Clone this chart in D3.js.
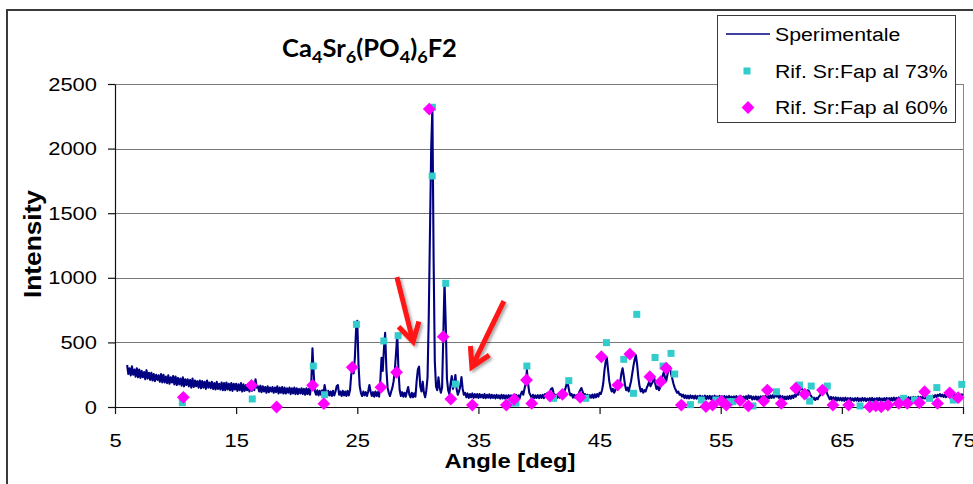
<!DOCTYPE html>
<html>
<head>
<meta charset="utf-8">
<script src="https://cdn.jsdelivr.net/npm/d3@7"></script>
<style>
  html, body { margin: 0; padding: 0; background: #fff; }
  svg { display: block; }
  text { font-family: "Liberation Sans", Arial, sans-serif; fill: #000; }
</style>
</head>
<body>
<svg id="chart" width="973" height="484"></svg>
<script>
// Measured diffractogram, sampled on a 0.1° grid from 6° to 75°
const scanStart = 6.0;
const scanStep = 0.1;
const scanCounts = [
  325,255,300,245,315,250,290,235,300,230,   // 6
  290,225,280,230,270,215,285,220,265,210,   // 7
  265,205,255,200,250,210,245,195,255,190,   // 8
  250,190,235,185,245,180,230,190,240,175,   // 9
  235,170,225,175,220,165,230,160,215,170,   // 10
  215,160,210,150,220,155,205,160,200,150,   // 11
  205,145,200,150,195,140,205,150,190,145,   // 12
  195,140,185,135,195,140,180,135,190,130,   // 13
  185,130,190,135,180,130,185,125,180,135,   // 14
  180,125,175,130,185,120,175,125,170,130,   // 15
  175,120,170,125,165,130,215,150,160,120,   // 16
  165,115,160,120,155,110,160,115,150,120,   // 17
  155,110,150,115,160,105,150,110,155,105,   // 18
  150,105,145,110,150,100,145,105,150,100,   // 19
  145,100,140,105,145,100,140,95,145,100,    // 20
  140,95,180,455,260,120,95,130,90,125,      // 21
  95,130,90,170,120,85,125,90,120,85,        // 22
  125,90,120,160,170,95,120,85,125,90,       // 23
  120,85,125,90,130,250,300,260,380,600,     // 24
  668,330,160,110,85,120,90,115,85,120,      // 25
  170,120,85,115,80,120,85,115,80,200,       // 26
  380,280,450,575,300,150,110,85,120,150,    // 27
  200,285,420,563,280,130,85,115,80,110,     // 28
  80,120,155,95,75,110,75,105,80,200,        // 29
  290,312,160,120,196,110,75,130,230,700,    // 30
  1350,2000,2320,1150,350,160,130,230,150,110, // 31
  150,550,967,650,220,130,100,180,240,140,   // 32
  190,248,140,95,120,160,232,140,95,110,     // 33
  75,105,70,100,75,105,70,100,75,100,        // 34
  70,100,75,95,70,100,68,95,72,98,           // 35
  68,95,70,92,66,95,70,90,65,95,             // 36
  66,92,65,90,68,92,64,90,66,92,             // 37
  65,95,68,90,65,100,120,95,140,180,         // 38
  286,180,110,90,70,95,68,90,70,92,          // 39
  68,92,70,95,68,100,80,110,95,120,          // 40
  140,147,110,85,95,70,92,72,95,80,          // 41
  100,120,150,186,170,120,90,100,72,95,      // 42
  70,92,80,110,130,147,120,90,100,75,        // 43
  95,70,92,72,96,70,98,75,100,80,            // 44
  110,100,130,180,280,350,380,290,200,150,   // 45
  120,140,110,130,170,200,160,190,260,300,   // 46
  240,170,130,150,120,160,200,260,320,370,   // 47
  400,330,230,160,120,140,110,130,120,150,   // 48
  170,200,160,180,196,230,180,140,160,130,   // 49
  150,200,240,270,230,200,250,290,312,260,   // 50
  220,180,150,130,110,120,95,100,80,95,      // 51
  70,90,68,88,66,90,70,86,65,88,             // 52
  64,85,66,88,62,84,65,88,62,85,             // 53
  64,86,60,84,63,88,62,82,64,86,             // 54
  60,84,62,85,58,82,60,86,62,80,             // 55
  58,82,60,84,56,80,60,82,58,80,             // 56
  60,84,62,90,70,85,58,80,60,82,             // 57
  56,80,58,82,60,84,62,86,60,88,             // 58
  66,90,70,92,72,100,80,96,70,88,            // 59
  62,84,58,80,60,82,62,86,64,88,             // 60
  70,95,80,105,95,130,140,147,120,100,       // 61
  90,110,130,120,95,80,60,72,55,70,          // 62
  60,80,90,110,125,140,150,130,100,80,       // 63
  60,78,55,75,52,74,50,72,52,70,             // 64
  50,70,48,72,52,68,46,70,50,66,             // 65
  48,68,50,70,46,66,48,70,50,68,             // 66
  46,66,50,68,48,70,46,66,48,68,             // 67
  50,70,48,66,50,68,46,70,52,68,             // 68
  48,70,50,72,52,70,50,74,54,72,             // 69
  52,74,56,72,54,76,56,74,58,78,             // 70
  56,76,60,80,62,78,64,82,66,84,             // 71
  62,80,66,84,70,88,74,92,78,95,             // 72
  85,100,82,96,78,94,76,92,80,98,            // 73
  82,100,86,98,84,102,88,100,84,98,          // 74
  90                                         // 75
];

// Reference pattern, Sr:Fap 73%
const ref73Angle = [10.56, 16.33, 21.37, 22.3, 24.93, 27.19, 28.37, 31.18, 31.2, 32.3,
  33.1, 37.7, 38.1, 39.0, 41.2, 42.46, 43.86, 45.57, 47.0, 47.8,
  48.07, 49.58, 50.24, 50.9, 51.2, 52.5, 53.4, 54.6, 55.75, 56.0,
  57.66, 59.6, 61.5, 62.34, 62.47, 63.8, 66.5, 67.7, 68.5, 70.1,
  71.0, 72.24, 72.84, 74.2, 74.9];
const ref73Counts = [33, 62, 317, 95, 640, 511, 552, 1788, 2320, 957,
  178, 30, 30, 317, 67, 204, 67, 498, 369, 106,
  717, 383, 317, 415, 255, 18, 54, 54, 41, 41,
  8, 118, 170, 46, 162, 162, 8, 15, 15, 67,
  54, 67, 150, 54, 175];

// Reference pattern, Sr:Fap 60%
const ref60Angle = [10.64, 16.27, 18.34, 21.31, 22.24, 24.58, 26.95, 28.24, 30.94, 32.09,
  32.72, 34.5, 37.3, 37.95, 38.97, 39.4, 40.9, 41.94, 43.4, 45.15,
  46.5, 47.5, 49.15, 50.05, 50.5, 51.75, 53.78, 54.33, 55.05, 55.46,
  56.6, 57.28, 58.55, 58.85, 60.0, 61.2, 61.93, 63.4, 64.26, 65.56,
  67.3, 67.8, 68.25, 68.8, 69.7, 70.4, 71.4, 71.83, 72.9, 73.9, 74.6];
const ref60Counts = [75, 168, 0, 168, 26, 307, 152, 268, 2306, 544,
  62, 15, 15, 60, 209, 28, 85, 98, 75, 389,
  170, 410, 235, 196, 300, 15, 4, 15, 46, 15,
  50, 8, 46, 131, 28, 145, 100, 131, 15, 15,
  2, 8, 2, 15, 28, 28, 33, 118, 28, 110, 72];

const xTicks = [5, 15, 25, 35, 45, 55, 65, 75];
const yTicks = [0, 500, 1000, 1500, 2000, 2500];
const legendLabels = ["Sperimentale", "Rif. Sr:Fap al 73%", "Rif. Sr:Fap al 60%"];

// Annotation arrows, in data units (angle, counts): tail -> head
const arrowTail = [[28.27, 1006], [37.10, 820]];
const arrowHead = [[29.61, 505], [34.46, 310]];

const svg = d3.select("#chart");
const plot = { left: 115, right: 963, top: 84, bottom: 407 };

const x = d3.scaleLinear().domain([5, 75]).range([plot.left, plot.right]);
const y = d3.scaleLinear().domain([0, 2500]).range([plot.bottom, plot.top]);

const LINE = "#000080", CYAN = "#33CCCC", MAGENTA = "#FF00FF";

// Chart-area frame (top and left edges)
svg.append("path")
  .attr("d", "M7,484V10H973")
  .attr("fill", "none").attr("stroke", "#3a3a3a").attr("stroke-width", 2);

// Horizontal gridlines
svg.append("g")
  .selectAll("line").data(yTicks.filter(v => v > 0)).join("line")
  .attr("x1", plot.left).attr("x2", plot.right)
  .attr("y1", d => Math.round(y(d)) + 0.5).attr("y2", d => Math.round(y(d)) + 0.5)
  .attr("stroke", "#7a7a7a").attr("stroke-width", 1);

// Right edge of plot area
svg.append("line")
  .attr("x1", plot.right + 0.5).attr("x2", plot.right + 0.5)
  .attr("y1", plot.top).attr("y2", plot.bottom)
  .attr("stroke", "#8a8a8a");

// Axes
const tickSX = 1.22;
const yAxis = svg.append("g")
  .attr("transform", `translate(${plot.left},0)`)
  .call(d3.axisLeft(y).tickValues(yTicks).tickFormat(d3.format("d"))
    .tickSize(7).tickSizeOuter(0).tickPadding(11));
const xAxis = svg.append("g")
  .attr("transform", `translate(0,${plot.bottom})`)
  .call(d3.axisBottom(x).tickValues(xTicks).tickFormat(d3.format("d"))
    .tickSize(7).tickSizeOuter(0));

[yAxis, xAxis].forEach(g => {
  g.attr("font-family", null).attr("font-size", null);
  g.select(".domain").attr("stroke", "#111").attr("stroke-width", 1.2);
  g.selectAll(".tick line").attr("stroke", "#111").attr("stroke-width", 1.2);
  g.selectAll(".tick text").style("font-size", "18px").attr("fill", "#000");
});
yAxis.selectAll(".tick text")
  .attr("x", -18 / tickSX).attr("dy", "0.34em")
  .attr("transform", `scale(${tickSX},1)`);
xAxis.selectAll(".tick text")
  .attr("y", 40).attr("dy", 0)
  .attr("transform", `scale(${tickSX},1)`);

// Experimental pattern
const scan = scanCounts.map((c, i) => [scanStart + i * scanStep, c]);
svg.append("path")
  .datum(scan)
  .attr("d", d3.line().x(d => x(d[0])).y(d => y(d[1])))
  .attr("fill", "none").attr("stroke", LINE).attr("stroke-width", 2.1)
  .attr("stroke-linejoin", "round");

// Reference markers
const sq = 7;
svg.append("g")
  .selectAll("rect").data(ref73Angle.map((a, i) => [a, ref73Counts[i]])).join("rect")
  .attr("x", d => x(d[0]) - sq / 2).attr("y", d => y(d[1]) - sq / 2)
  .attr("width", sq).attr("height", sq).attr("fill", CYAN);

const diamond = r => `M0,${-r}L${r},0L0,${r}L${-r},0Z`;
svg.append("g")
  .selectAll("path").data(ref60Angle.map((a, i) => [a, ref60Counts[i]])).join("path")
  .attr("transform", d => `translate(${x(d[0])},${y(d[1])})`)
  .attr("d", diamond(6.4)).attr("fill", MAGENTA);

// Annotation arrows with a soft shadow
const defs = svg.append("defs");
const f = defs.append("filter").attr("id", "shadow")
  .attr("x", "-50%").attr("y", "-50%").attr("width", "200%").attr("height", "200%");
f.append("feGaussianBlur").attr("in", "SourceAlpha").attr("stdDeviation", 1.6).attr("result", "b");
f.append("feOffset").attr("in", "b").attr("dx", 2).attr("dy", 2).attr("result", "o");
f.append("feComponentTransfer").attr("in", "o").attr("result", "s")
  .append("feFuncA").attr("type", "linear").attr("slope", 0.35);
const fm = f.append("feMerge");
fm.append("feMergeNode").attr("in", "s");
fm.append("feMergeNode").attr("in", "SourceGraphic");

arrowTail.forEach((t, i) => {
  const p0 = [x(t[0]), y(t[1])];
  const p1 = [x(arrowHead[i][0]), y(arrowHead[i][1])];
  const ang = Math.atan2(p0[1] - p1[1], p0[0] - p1[0]);
  const L = 21, spread = Math.PI / 6;
  const w1 = [p1[0] + L * Math.cos(ang - spread), p1[1] + L * Math.sin(ang - spread)];
  const w2 = [p1[0] + L * Math.cos(ang + spread), p1[1] + L * Math.sin(ang + spread)];
  svg.append("path")
    .attr("d", `M${p0}L${p1}M${w1}L${p1}L${w2}`)
    .attr("fill", "none").attr("stroke", "#FF1414").attr("stroke-width", 5)
    .attr("stroke-linejoin", "miter").attr("stroke-linecap", "butt")
    .attr("filter", "url(#shadow)");
});

// Title
const title = svg.append("g").attr("transform", "translate(369.5,57)");
const tt = title.append("text")
  .attr("text-anchor", "middle")
  .style("font-family", "Lato, 'Open Sans', sans-serif")
  .style("font-weight", "bold").style("font-size", "24px");
const parts = [["Ca", 0], ["4", 1], ["Sr", 0], ["6", 1], ["(PO", 0], ["4", 1], [")", 0], ["6", 1], ["F2", 0]];
let prevSub = 0;
parts.forEach(([s, sub]) => {
  tt.append("tspan").text(s)
    .attr("dy", sub === prevSub ? 0 : (sub ? 6 : -6))
    .style("font-size", sub ? "17px" : "24px");
  prevSub = sub;
});
const tw = tt.node().getBBox().width;
tt.attr("transform", `scale(${175 / tw},1)`);

// Axis titles
const yt = svg.append("g").attr("transform", "translate(41,244) rotate(-90)")
  .append("text").attr("text-anchor", "middle")
  .style("font-weight", "bold").style("font-size", "21px").text("Intensity");
yt.attr("transform", `scale(${108 / yt.node().getComputedTextLength()},1.1)`);

const xt = svg.append("g").attr("transform", "translate(510,468)")
  .append("text").attr("text-anchor", "middle")
  .style("font-weight", "bold").style("font-size", "21px").text("Angle [deg]");
xt.attr("transform", `scale(${131 / xt.node().getComputedTextLength()},1)`);

// Legend
const lg = svg.append("g");
lg.append("rect")
  .attr("x", 717.5).attr("y", 15.5).attr("width", 238).attr("height", 107)
  .attr("fill", "#fff").attr("stroke", "#3a3a3a").attr("stroke-width", 1);
const rowY = [34, 71, 107.5];
lg.append("line").attr("x1", 726).attr("x2", 770).attr("y1", rowY[0]).attr("y2", rowY[0])
  .attr("stroke", LINE).attr("stroke-width", 1.5);
lg.append("rect").attr("x", 747 - sq / 2).attr("y", rowY[1] - sq / 2)
  .attr("width", sq).attr("height", sq).attr("fill", CYAN);
lg.append("path").attr("transform", `translate(748,${rowY[2]})`)
  .attr("d", diamond(6.4)).attr("fill", MAGENTA);
const legSX = 1.12;
legendLabels.forEach((s, i) => {
  lg.append("g").attr("transform", `translate(775,${rowY[i] + 6.5}) scale(${legSX},1)`)
    .append("text").style("font-size", "19px").text(s);
});
</script>
</body>
</html>
